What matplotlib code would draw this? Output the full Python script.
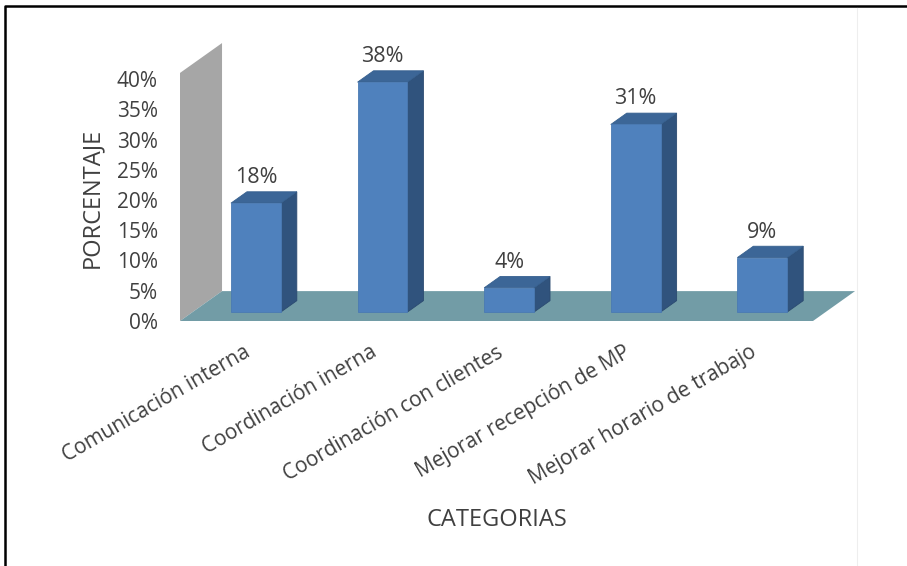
import numpy as np
import matplotlib
matplotlib.use("Agg")
import matplotlib.pyplot as plt
from matplotlib.patches import Polygon
from matplotlib.lines import Line2D

categorias = ["Comunicación interna", "Coordinación inerna",
              "Coordinación con clientes", "Mejorar recepción de MP",
              "Mejorar horario de trabajo"]
porcentajes = [18, 38, 4, 31, 9]
yticks = [0, 5, 10, 15, 20, 25, 30, 35, 40]

plt.rcParams['font.family'] = ['Open Sans', 'DejaVu Sans']

# pseudo-3D: depth d in [0, 1] shifts points right/up
DX = 0.332   # category units per unit depth
DY = 4.94    # percent units per unit depth
D0, D1 = 0.30, 0.68   # depth span of the bars
BW = 0.394            # bar width (category units)
WALL_TOP = 41.0

C_FRONT = '#4f81bd'
C_SIDE = '#30537d'
C_TOP = '#3c6697'
C_FLOOR = '#729ca6'
C_WALL = '#a6a6a6'
TXT = '#404040'
FS_TICK = 15
FS_DATA = 15.5
FS_TITLE = 17


def proj(x, y, d):
    return (x + d * DX, y + d * DY)


W, H = 907, 566
fig = plt.figure(figsize=(W / 100, H / 100), dpi=100)
x0p, x1p, y0p, y1p = 180, 813, 321, 79   # pixel box of the front plane
ax = fig.add_axes([x0p / W, (H - y0p) / H, (x1p - x0p) / W, (y0p - y1p) / H])
ax.set_xlim(0, len(categorias))
ax.set_ylim(0, 40)
for s in ax.spines.values():
    s.set_visible(False)
ax.patch.set_visible(False)

n = len(categorias)

# side wall and floor
wall = [proj(0, 0, 0), proj(0, WALL_TOP, 0), proj(0, WALL_TOP, 1), proj(0, 0, 1)]
ax.add_patch(Polygon(wall, closed=True, fc=C_WALL, ec='none', clip_on=False, zorder=1))
floor = [proj(0, 0, 0), proj(n, 0, 0), proj(n, 0, 1), proj(0, 0, 1)]
ax.add_patch(Polygon(floor, closed=True, fc=C_FLOOR, ec='none', clip_on=False, zorder=1))

# bars
for i, v in enumerate(porcentajes):
    xa = i + 0.5 - BW / 2
    xb = i + 0.5 + BW / 2
    front = [proj(xa, 0, D0), proj(xb, 0, D0), proj(xb, v, D0), proj(xa, v, D0)]
    side = [proj(xb, 0, D0), proj(xb, 0, D1), proj(xb, v, D1), proj(xb, v, D0)]
    top = [proj(xa, v, D0), proj(xb, v, D0), proj(xb, v, D1), proj(xa, v, D1)]
    kw = dict(closed=True, clip_on=False, zorder=3 + i, lw=0.6)
    ax.add_patch(Polygon(side, fc=C_SIDE, ec='#2b4a70', **kw))
    ax.add_patch(Polygon(top, fc=C_TOP, ec='#36608f', **kw))
    ax.add_patch(Polygon(front, fc=C_FRONT, ec='#4a7ab3', **kw))
    lx, ly = proj(i + 0.5, v, D1)
    ax.annotate(f"{v}%", xy=(i + 0.5 + D0 * DX, ly), xytext=(0, 10.2),
                textcoords='offset points', ha='center', va='center',
                fontsize=FS_DATA, color=TXT, annotation_clip=False, zorder=20)

ax.set_yticks(yticks)
ax.set_yticklabels([f"{t}%" for t in yticks])
ax.set_xticks(np.arange(n) + 0.5)
ax.set_xticklabels(categorias, rotation=30, ha='right', rotation_mode='anchor')
ax.tick_params(axis='y', length=0, pad=16, labelsize=FS_TICK, labelcolor=TXT)
ax.tick_params(axis='x', length=0, pad=15, labelsize=FS_TICK, labelcolor=TXT)

ax.text((92 - x0p) / (x1p - x0p), (y0p - 198) / (y0p - y1p), "PORCENTAJE",
        transform=ax.transAxes, rotation=90, ha='center', va='center',
        fontsize=FS_TITLE, color=TXT)
ax.text((497 - x0p) / (x1p - x0p), (y0p - 520) / (y0p - y1p), "CATEGORIAS",
        transform=ax.transAxes, ha='center', va='center',
        fontsize=FS_TITLE, color=TXT)

# outer frame (top and left edges) and faint chart-area edge
fig.add_artist(Line2D([5 / W, 5 / W, 1.0], [0.0, 1 - 6 / H, 1 - 6 / H],
                      transform=fig.transFigure, color='black', lw=1.8))
fig.add_artist(Line2D([857 / W, 857 / W], [0.0, 1 - 8 / H],
                      transform=fig.transFigure, color='#eeeeee', lw=0.8))

fig.savefig("out.png", dpi=100)
